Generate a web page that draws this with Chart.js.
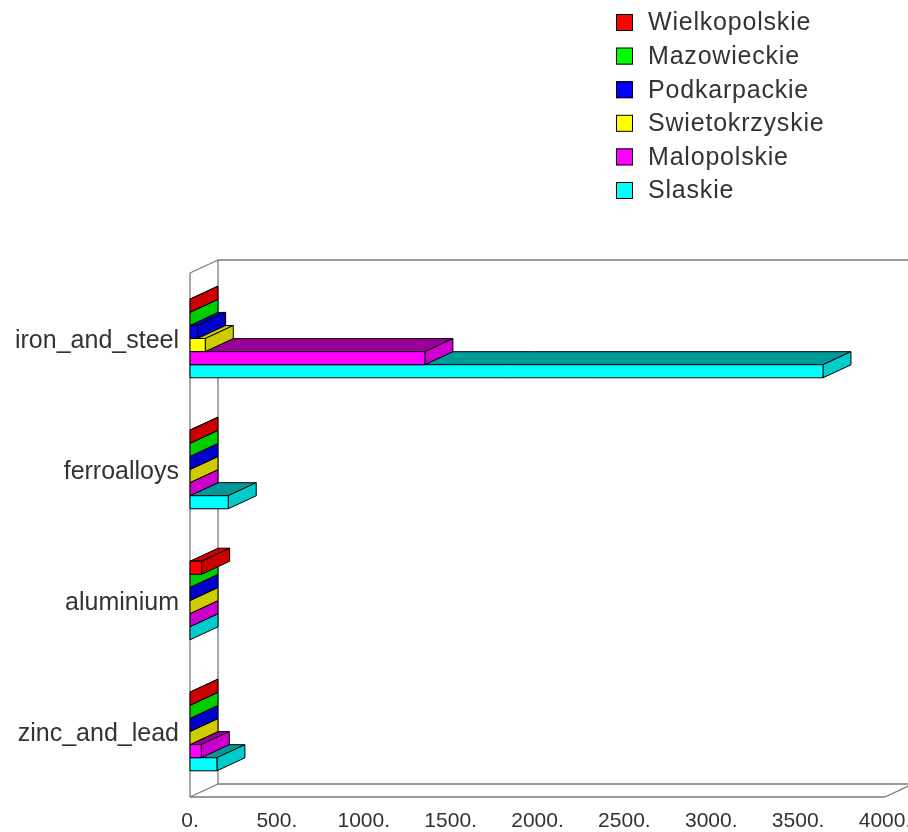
<!DOCTYPE html>
<html>
<head>
<meta charset="utf-8">
<script src="https://cdn.jsdelivr.net/npm/chart.js@4"></script>
<style>
  html, body { margin: 0; padding: 0; background: #fff; }
  #wrap { width: 908px; height: 832px; }
</style>
</head>
<body>
<div id="wrap"><canvas id="my-Bar3D-Chart" width="908" height="832"></canvas></div>
<script>
// data
const categories = ['iron_and_steel', 'ferroalloys', 'aluminium', 'zinc_and_lead'];
const regions = ['Wielkopolskie', 'Mazowieckie', 'Podkarpackie', 'Swietokrzyskie', 'Malopolskie', 'Slaskie'];
const wielkopolskie = [0, 0, 67, 0];
const mazowieckie = [0, 0, 0, 0];
const podkarpackie = [44, 0, 0, 0];
const swietokrzyskie = [88, 0, 0, 0];
const malopolskie = [1352, 0, 0, 65];
const slaskie = [3643, 220, 0, 155];
const xTicks = [0, 500, 1000, 1500, 2000, 2500, 3000, 3500, 4000];

const seriesValues = [wielkopolskie, mazowieckie, podkarpackie, swietokrzyskie, malopolskie, slaskie];

// warna depan / atas / samping
const frontColors = ['#ff0000', '#00ff00', '#0000ff', '#ffff00', '#ff00ff', '#00ffff'];
const topColors = ['#cc0000', '#00cc00', '#0000cc', '#cccc00', '#990099', '#009999'];
const sideColors = ['#cc0000', '#00cc00', '#0000cc', '#cccc00', '#cc00cc', '#00cccc'];

const DX = 28, DY = -13; // kedalaman 3D
const FONT = 'Liberation Sans, Arial, sans-serif';

function poly(ctx, pts, fill) {
    ctx.beginPath();
    ctx.moveTo(pts[0][0], pts[0][1]);
    for (let i = 1; i < pts.length; i++) ctx.lineTo(pts[i][0], pts[i][1]);
    ctx.closePath();
    ctx.fillStyle = fill;
    ctx.fill();
    ctx.stroke();
}

const bar3d = {
    id: 'bar3d',
    beforeDatasetsDraw(chart) {
        const ctx = chart.ctx;
        const a = chart.chartArea;
        const L = a.left, R = a.right, T = a.top, B = a.bottom;
        ctx.save();
        // kotak
        ctx.strokeStyle = '#7a7a7a';
        ctx.lineWidth = 1.3;
        const lines = [
            [[L, T], [L, B]],
            [[L + DX, T + DY], [L + DX, B + DY]],
            [[L, T], [L + DX, T + DY]],
            [[L, B], [L + DX, B + DY]],
            [[L + DX, T + DY], [R + DX, T + DY]],
            [[L + DX, B + DY], [R + DX, B + DY]],
            [[L, B], [R, B]],
            [[R, B], [R + DX, B + DY]],
            [[R + DX, T + DY], [R + DX, B + DY]]
        ];
        lines.forEach(l => {
            ctx.beginPath();
            ctx.moveTo(l[0][0], l[0][1]);
            ctx.lineTo(l[1][0], l[1][1]);
            ctx.stroke();
        });

        // batang, dari bawah ke atas
        ctx.strokeStyle = '#000';
        ctx.lineWidth = 1;
        ctx.lineJoin = 'round';
        for (let d = chart.data.datasets.length - 1; d >= 0; d--) {
            const meta = chart.getDatasetMeta(d);
            meta.data.forEach(el => {
                const p = el.getProps(['x', 'y', 'base', 'height'], true);
                const x0 = p.base, x1 = p.x;
                const y0 = p.y - p.height / 2, y1 = p.y + p.height / 2;
                poly(ctx, [[x0, y0], [x1, y0], [x1 + DX, y0 + DY], [x0 + DX, y0 + DY]], topColors[d]);
                poly(ctx, [[x1, y0], [x1 + DX, y0 + DY], [x1 + DX, y1 + DY], [x1, y1]], sideColors[d]);
                if (x1 - x0 > 0.5) poly(ctx, [[x0, y0], [x1, y0], [x1, y1], [x0, y1]], frontColors[d]);
            });
        }
        ctx.restore();
        return false;
    },
    afterDraw(chart) {
        // legenda
        const ctx = chart.ctx;
        ctx.save();
        ctx.font = '25px ' + FONT;
        ctx.letterSpacing = '0.8px';
        ctx.textBaseline = 'middle';
        chart.data.datasets.forEach((ds, i) => {
            const cy = 22.5 + i * 33.6;
            ctx.fillStyle = frontColors[i];
            ctx.fillRect(616, cy - 8.5, 17, 17);
            ctx.strokeStyle = '#000';
            ctx.lineWidth = 1;
            ctx.strokeRect(616.5, cy - 8, 16, 16);
            ctx.fillStyle = '#333';
            ctx.fillText(ds.label, 648, cy + 1);
        });
        ctx.restore();
    }
};

const ctx = document.getElementById('my-Bar3D-Chart').getContext('2d');
new Chart(ctx, {
    type: 'bar',
    data: {
        labels: categories,
        datasets: regions.map((name, i) => ({
            label: name,
            data: seriesValues[i],
            backgroundColor: frontColors[i],
            categoryPercentage: 0.6,
            barPercentage: 1.0
        }))
    },
    plugins: [bar3d],
    options: {
        indexAxis: 'y',
        responsive: false,
        animation: false,
        layout: { padding: { left: 0, top: 273, right: 23, bottom: 0 } },
        plugins: {
            legend: { display: false },
            tooltip: { enabled: false }
        },
        scales: {
            x: {
                min: 0,
                max: 4000,
                afterBuildTicks: axis => { axis.ticks = xTicks.map(v => ({ value: v })); },
                afterFit: axis => {
                    axis.height = 35;
                    axis.paddingLeft = 0;
                    axis.paddingRight = 0;
                },
                grid: { display: false, drawTicks: false },
                border: { display: false },
                ticks: {
                    padding: 12,
                    maxRotation: 0,
                    autoSkip: false,
                    color: '#333',
                    font: { family: FONT, size: 21 },
                    callback: v => v + '.'
                }
            },
            y: {
                afterFit: axis => { axis.width = 190; },
                grid: { display: false, drawTicks: false },
                border: { display: false },
                ticks: {
                    padding: 11,
                    labelOffset: 3,
                    color: '#333',
                    font: { family: FONT, size: 25 }
                }
            }
        }
    }
});
</script>
</body>
</html>
